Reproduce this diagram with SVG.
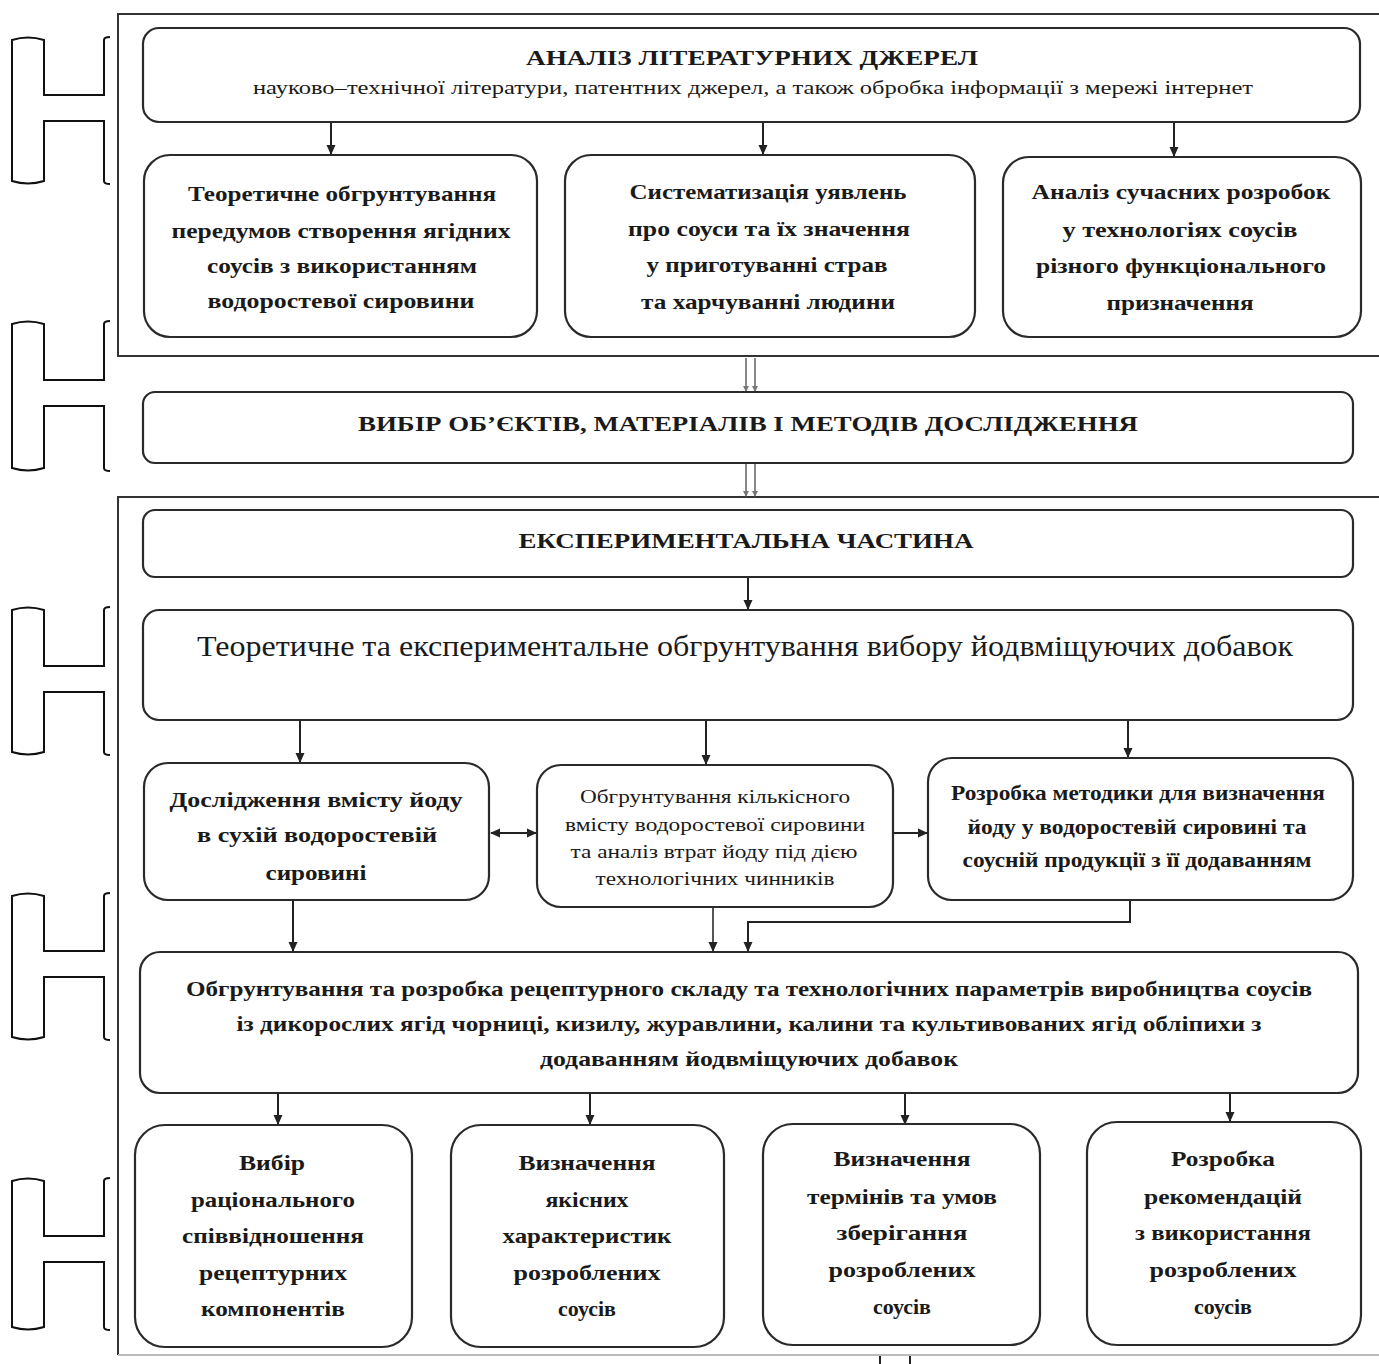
<svg xmlns="http://www.w3.org/2000/svg" width="1379" height="1364" viewBox="0 0 1379 1364">
<defs>
<marker id="ah" markerUnits="userSpaceOnUse" markerWidth="10" markerHeight="10" refX="9" refY="5" orient="auto-start-reverse">
<path d="M0,0.5 L10,5 L0,9.5 Z" fill="#222"/>
</marker>
<marker id="dot" markerUnits="userSpaceOnUse" markerWidth="6" markerHeight="6" refX="5" refY="3" orient="auto">
<path d="M0,0 L6,3 L0,6 Z" fill="#777"/>
</marker>
<style>
.box{fill:#fff;stroke:#2a2a2a;stroke-width:2.2}
.frame{fill:none;stroke:#333;stroke-width:2}
.br{fill:none;stroke:#111;stroke-width:2}
.c{fill:none;stroke:#222;stroke-width:2}
.dl{stroke:#888;stroke-width:2}
.t{font-family:"Liberation Serif","Times New Roman",serif;font-weight:bold;fill:#1a1a1a;text-anchor:middle}
.r{font-family:"Liberation Serif","Times New Roman",serif;font-weight:normal;fill:#1a1a1a;text-anchor:middle}
</style>
</defs>
<rect width="1379" height="1364" fill="#fff"/>

<g id="brackets">
<path class="br" d="M110,37 Q104,37 104,40 V95 H44 V40 Q28,35 12,40 V181 Q28,186 44,181 V121 H104 V181 Q104,184 110,184"/>
<path class="br" d="M110,321 Q104,321 104,324 V380 H44 V324 Q28,319 12,324 V468 Q28,473 44,468 V406 H104 V468 Q104,471 110,471"/>
<path class="br" d="M110,607 Q104,607 104,610 V666 H44 V610 Q28,605 12,610 V752 Q28,757 44,752 V692 H104 V752 Q104,755 110,755"/>
<path class="br" d="M110,893 Q104,893 104,896 V951 H44 V896 Q28,891 12,896 V1037 Q28,1042 44,1037 V977 H104 V1037 Q104,1040 110,1040"/>
<path class="br" d="M110,1178 Q104,1178 104,1181 V1236 H44 V1181 Q28,1176 12,1181 V1327 Q28,1332 44,1327 V1262 H104 V1327 Q104,1330 110,1330"/>
</g>

<g id="frames">
<path class="frame" d="M1379,14 H118 V356 H1379"/>
<path class="frame" d="M1379,497 H118 V1355"/>
<path d="M118,1355 H1379" fill="none" stroke="#bbb" stroke-width="2"/>
</g>

<g id="connectors">
<line class="c" x1="331" y1="122" x2="331" y2="154" marker-end="url(#ah)"/>
<line class="c" x1="763" y1="122" x2="763" y2="154" marker-end="url(#ah)"/>
<line class="c" x1="1174" y1="122" x2="1174" y2="156" marker-end="url(#ah)"/>
<line class="dl" x1="746" y1="358" x2="746" y2="391" marker-end="url(#dot)"/>
<line class="dl" x1="755" y1="358" x2="755" y2="391" marker-end="url(#dot)"/>
<line class="dl" x1="746" y1="464" x2="746" y2="496" marker-end="url(#dot)"/>
<line class="dl" x1="755" y1="464" x2="755" y2="496" marker-end="url(#dot)"/>
<line class="c" x1="748" y1="578" x2="748" y2="609" marker-end="url(#ah)"/>
<line class="c" x1="300" y1="720" x2="300" y2="762" marker-end="url(#ah)"/>
<line class="c" x1="706" y1="720" x2="706" y2="764" marker-end="url(#ah)"/>
<line class="c" x1="1128" y1="720" x2="1128" y2="757" marker-end="url(#ah)"/>
<line class="c" x1="491" y1="833" x2="536" y2="833" marker-start="url(#ah)" marker-end="url(#ah)"/>
<line class="c" x1="893" y1="833" x2="927" y2="833" marker-end="url(#ah)"/>
<line class="c" x1="293" y1="900" x2="293" y2="951" marker-end="url(#ah)"/>
<line x1="713" y1="907" x2="713" y2="951" stroke="#555" stroke-width="2" marker-end="url(#ah)"/>
<polyline class="c" points="1130,900 1130,922 748,922 748,951" marker-end="url(#ah)"/>
<line class="c" x1="278" y1="1093" x2="278" y2="1124" marker-end="url(#ah)"/>
<line class="c" x1="590" y1="1093" x2="590" y2="1124" marker-end="url(#ah)"/>
<line class="c" x1="905" y1="1093" x2="905" y2="1124" marker-end="url(#ah)"/>
<line class="c" x1="1230" y1="1093" x2="1230" y2="1121" marker-end="url(#ah)"/>
<line class="c" x1="880" y1="1356" x2="880" y2="1364"/>
<line class="c" x1="910" y1="1356" x2="910" y2="1364"/>
</g>

<g id="n-analysis">
<rect class="box" x="143" y="28" width="1217" height="94" rx="16"/>
<text class="t" x="752" y="65" font-size="22" textLength="452" lengthAdjust="spacingAndGlyphs">АНАЛІЗ ЛІТЕРАТУРНИХ ДЖЕРЕЛ</text>
<text class="r" x="753" y="94" font-size="19" textLength="1000" lengthAdjust="spacingAndGlyphs">науково–технічної літератури, патентних джерел, а також обробка інформації з мережі інтернет</text>
</g>

<g id="n-theory">
<rect class="box" x="144" y="155" width="393" height="182" rx="26"/>
<text class="t" x="342" y="201" font-size="22" textLength="308" lengthAdjust="spacingAndGlyphs">Теоретичне обгрунтування</text>
<text class="t" x="341" y="238" font-size="22" textLength="339" lengthAdjust="spacingAndGlyphs">передумов створення ягідних</text>
<text class="t" x="342" y="273" font-size="22" textLength="270" lengthAdjust="spacingAndGlyphs">соусів з використанням</text>
<text class="t" x="341" y="308" font-size="22" textLength="267" lengthAdjust="spacingAndGlyphs">водоростевої сировини</text>
</g>

<g id="n-system">
<rect class="box" x="565" y="155" width="410" height="182" rx="26"/>
<text class="t" x="768" y="199" font-size="22" textLength="277" lengthAdjust="spacingAndGlyphs">Систематизація уявлень</text>
<text class="t" x="769" y="236" font-size="22" textLength="282" lengthAdjust="spacingAndGlyphs">про соуси та їх значення</text>
<text class="t" x="767" y="272" font-size="22" textLength="241" lengthAdjust="spacingAndGlyphs">у приготуванні страв</text>
<text class="t" x="768" y="309" font-size="22" textLength="254" lengthAdjust="spacingAndGlyphs">та харчуванні людини</text>
</g>

<g id="n-modern">
<rect class="box" x="1003" y="157" width="358" height="180" rx="26"/>
<text class="t" x="1181" y="199" font-size="22" textLength="299" lengthAdjust="spacingAndGlyphs">Аналіз сучасних розробок</text>
<text class="t" x="1180" y="237" font-size="22" textLength="235" lengthAdjust="spacingAndGlyphs">у технологіях соусів</text>
<text class="t" x="1181" y="273" font-size="22" textLength="290" lengthAdjust="spacingAndGlyphs">різного функціонального</text>
<text class="t" x="1180" y="310" font-size="22" textLength="147" lengthAdjust="spacingAndGlyphs">призначення</text>
</g>

<g id="n-choice">
<rect class="box" x="143" y="392" width="1210" height="71" rx="12"/>
<text class="t" x="748" y="431" font-size="22" textLength="780" lengthAdjust="spacingAndGlyphs">ВИБІР ОБ’ЄКТІВ, МАТЕРІАЛІВ І МЕТОДІВ ДОСЛІДЖЕННЯ</text>
</g>

<g id="n-experimental">
<rect class="box" x="143" y="510" width="1210" height="67" rx="12"/>
<text class="t" x="746" y="548" font-size="22" textLength="455" lengthAdjust="spacingAndGlyphs">ЕКСПЕРИМЕНТАЛЬНА ЧАСТИНА</text>
</g>

<g id="n-additives">
<rect class="box" x="143" y="610" width="1210" height="110" rx="16"/>
<text class="r" x="745" y="656" font-size="29" textLength="1096" lengthAdjust="spacingAndGlyphs">Теоретичне та експериментальне обгрунтування  вибору йодвміщуючих добавок</text>
</g>

<g id="n-iodine">
<rect class="box" x="144" y="763" width="345" height="137" rx="24"/>
<text class="t" x="316" y="807" font-size="22" textLength="293" lengthAdjust="spacingAndGlyphs">Дослідження вмісту йоду</text>
<text class="t" x="317" y="842" font-size="22" textLength="240" lengthAdjust="spacingAndGlyphs">в сухій водоростевій</text>
<text class="t" x="316" y="880" font-size="22" textLength="101" lengthAdjust="spacingAndGlyphs">сировині</text>
</g>

<g id="n-losses">
<rect class="box" x="537" y="765" width="356" height="142" rx="24"/>
<text class="r" x="715" y="803" font-size="19" textLength="270" lengthAdjust="spacingAndGlyphs">Обгрунтування кількісного</text>
<text class="r" x="715" y="831" font-size="19" textLength="300" lengthAdjust="spacingAndGlyphs">вмісту водоростевої сировини</text>
<text class="r" x="714" y="858" font-size="19" textLength="287" lengthAdjust="spacingAndGlyphs">та аналіз втрат йоду під дією</text>
<text class="r" x="715" y="885" font-size="19" textLength="239" lengthAdjust="spacingAndGlyphs">технологічних чинників</text>
</g>

<g id="n-method">
<rect class="box" x="928" y="758" width="425" height="142" rx="24"/>
<text class="t" x="1138" y="800" font-size="21" textLength="374" lengthAdjust="spacingAndGlyphs">Розробка  методики для визначення</text>
<text class="t" x="1137" y="834" font-size="21" textLength="339" lengthAdjust="spacingAndGlyphs">йоду у водоростевій сировині та</text>
<text class="t" x="1137" y="867" font-size="21" textLength="349" lengthAdjust="spacingAndGlyphs">соусній продукції з її додаванням</text>
</g>

<g id="n-recipe">
<rect class="box" x="140" y="952" width="1218" height="141" rx="20"/>
<text class="t" x="749" y="996" font-size="22" textLength="1126" lengthAdjust="spacingAndGlyphs">Обгрунтування та розробка рецептурного складу та технологічних параметрів виробництва соусів</text>
<text class="t" x="749" y="1031" font-size="22" textLength="1025" lengthAdjust="spacingAndGlyphs">із дикорослих ягід чорниці, кизилу, журавлини, калини та культивованих ягід обліпихи з</text>
<text class="t" x="749" y="1066" font-size="22" textLength="418" lengthAdjust="spacingAndGlyphs">додаванням йодвміщуючих добавок</text>
</g>

<g id="n-ratio">
<rect class="box" x="135" y="1125" width="277" height="222" rx="30"/>
<text class="t" x="272" y="1170" font-size="22" textLength="66" lengthAdjust="spacingAndGlyphs">Вибір</text>
<text class="t" x="273" y="1207" font-size="22" textLength="164" lengthAdjust="spacingAndGlyphs">раціонального</text>
<text class="t" x="273" y="1243" font-size="22" textLength="182" lengthAdjust="spacingAndGlyphs">співвідношення</text>
<text class="t" x="273" y="1280" font-size="22" textLength="148" lengthAdjust="spacingAndGlyphs">рецептурних</text>
<text class="t" x="273" y="1316" font-size="22" textLength="144" lengthAdjust="spacingAndGlyphs">компонентів</text>
</g>

<g id="n-quality">
<rect class="box" x="451" y="1125" width="273" height="222" rx="30"/>
<text class="t" x="587" y="1170" font-size="22" textLength="137" lengthAdjust="spacingAndGlyphs">Визначення</text>
<text class="t" x="587" y="1207" font-size="22" textLength="83" lengthAdjust="spacingAndGlyphs">якісних</text>
<text class="t" x="587" y="1243" font-size="22" textLength="169" lengthAdjust="spacingAndGlyphs">характеристик</text>
<text class="t" x="587" y="1280" font-size="22" textLength="147" lengthAdjust="spacingAndGlyphs">розроблених</text>
<text class="t" x="587" y="1316" font-size="22" textLength="58" lengthAdjust="spacingAndGlyphs">соусів</text>
</g>

<g id="n-storage">
<rect class="box" x="763" y="1124" width="277" height="221" rx="30"/>
<text class="t" x="902" y="1166" font-size="22" textLength="137" lengthAdjust="spacingAndGlyphs">Визначення</text>
<text class="t" x="902" y="1204" font-size="22" textLength="190" lengthAdjust="spacingAndGlyphs">термінів та умов</text>
<text class="t" x="902" y="1240" font-size="22" textLength="131" lengthAdjust="spacingAndGlyphs">зберігання</text>
<text class="t" x="902" y="1277" font-size="22" textLength="147" lengthAdjust="spacingAndGlyphs">розроблених</text>
<text class="t" x="902" y="1314" font-size="22" textLength="58" lengthAdjust="spacingAndGlyphs">соусів</text>
</g>

<g id="n-recommend">
<rect class="box" x="1087" y="1122" width="274" height="223" rx="30"/>
<text class="t" x="1223" y="1166" font-size="22" textLength="104" lengthAdjust="spacingAndGlyphs">Розробка</text>
<text class="t" x="1223" y="1204" font-size="22" textLength="158" lengthAdjust="spacingAndGlyphs">рекомендацій</text>
<text class="t" x="1223" y="1240" font-size="22" textLength="176" lengthAdjust="spacingAndGlyphs">з використання</text>
<text class="t" x="1223" y="1277" font-size="22" textLength="147" lengthAdjust="spacingAndGlyphs">розроблених</text>
<text class="t" x="1223" y="1314" font-size="22" textLength="58" lengthAdjust="spacingAndGlyphs">соусів</text>
</g>
</svg>
